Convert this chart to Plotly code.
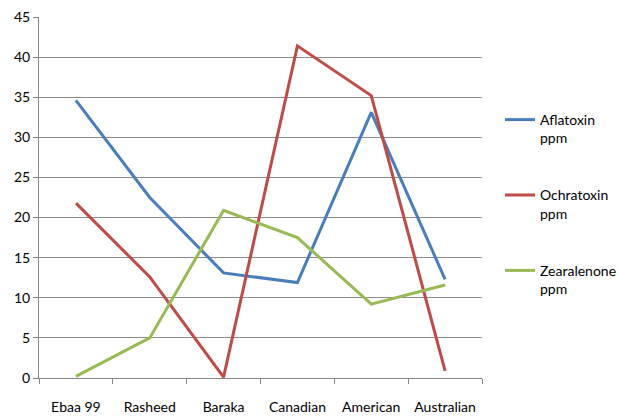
import plotly.graph_objects as go

# Mycotoxin levels by wheat variety
varieties = ["Ebaa 99", "Rasheed", "Baraka", "Canadian", "American", "Australian"]
aflatoxin = [34.6, 22.5, 13.1, 11.9, 33.1, 12.3]
ochratoxin = [21.8, 12.6, 0.1, 41.4, 35.2, 0.9]
zearalenone = [0.2, 5.0, 20.9, 17.5, 9.2, 11.6]

series_names = ["Aflatoxin<br>ppm", "Ochratoxin<br>ppm", "Zearalenone<br>ppm"]
series_values = [aflatoxin, ochratoxin, zearalenone]
series_colors = ["#4A7EBB", "#BE4B48", "#98B954"]
y_ticks = [0, 5, 10, 15, 20, 25, 30, 35, 40, 45]

FONT = "Lato, Calibri, Carlito, sans-serif"

fig = go.Figure()
for i, (name, vals, col) in enumerate(zip(series_names, series_values, series_colors)):
    fig.add_trace(go.Scatter(
        x=varieties, y=vals, name=name, mode="lines",
        line=dict(color=col, width=3),
        legendgroup=f"g{i}",
    ))

fig.update_layout(
    width=619, height=416,
    margin=dict(l=39, r=137, t=17, b=38, autoexpand=False),
    paper_bgcolor="white", plot_bgcolor="white",
    font=dict(family=FONT, size=14, color="#000000"),
    showlegend=True,
    legend=dict(
        xref="container", yref="container",
        x=500 / 619, y=1 - 104 / 416, xanchor="left", yanchor="top",
        font=dict(family=FONT, size=14, color="#000000"),
        tracegroupgap=36, valign="top",
        bgcolor="rgba(0,0,0,0)",
    ),
    xaxis=dict(
        type="category", range=[-0.5, 5.5], automargin=False,
        showline=True, linecolor="#868686", linewidth=1,
        ticks="outside", tickson="boundaries", ticklen=5, tickcolor="#868686",
        showgrid=False, ticklabelstandoff=16,
        tickfont=dict(family=FONT, size=14, color="#000000"),
    ),
    yaxis=dict(
        range=[0, 45], tickvals=y_ticks, automargin=False,
        showline=True, linecolor="#868686", linewidth=1,
        ticks="outside", ticklen=5, tickcolor="#868686",
        showgrid=True, gridcolor="#8C8C8C", gridwidth=1,
        zeroline=False,
        tickfont=dict(family=FONT, size=14, color="#000000"),
    ),
)

fig.write_html("out.html")
